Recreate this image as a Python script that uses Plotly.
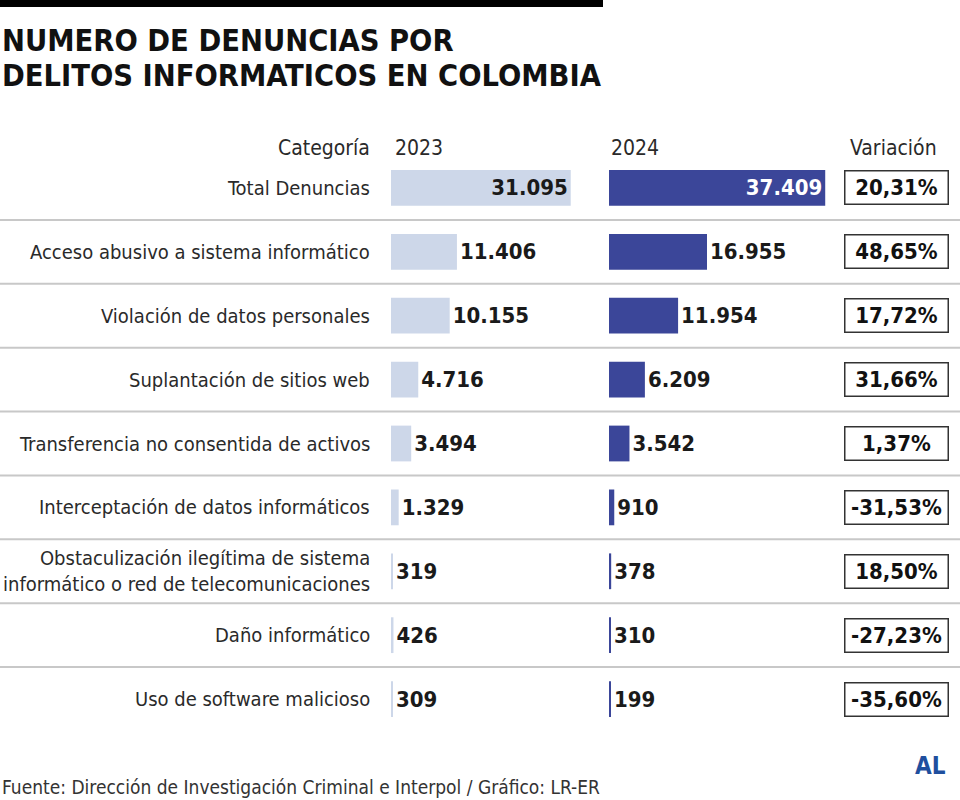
import plotly.graph_objects as go

categories = [
    "Total Denuncias",
    "Acceso abusivo a sistema informático",
    "Violación de datos personales",
    "Suplantación de sitios web",
    "Transferencia no consentida de activos",
    "Interceptación de datos informáticos",
    "Obstaculización ilegítima de sistema<br>informático o red de telecomunicaciones",
    "Daño informático",
    "Uso de software malicioso",
]
values_2023 = [31095, 11406, 10155, 4716, 3494, 1329, 319, 426, 309]
values_2024 = [37409, 16955, 11954, 6209, 3542, 910, 378, 310, 199]
variacion = ["20,31%", "48,65%", "17,72%", "31,66%", "1,37%", "-31,53%", "18,50%", "-27,23%", "-35,60%"]
header_labels = ["Categoría", "2023", "2024", "Variación"]
title_lines = ["NUMERO DE DENUNCIAS POR", "DELITOS INFORMATICOS EN COLOMBIA"]
source_text = "Fuente: Dirección de Investigación Criminal e Interpol / Gráfico: LR-ER"

FONT = "DejaVu Sans Condensed, Liberation Sans Narrow, sans-serif"
C23 = "#cdd7e9"
C24 = "#3b4699"
W, H = 960, 800
PX_PER_UNIT = 0.00578

def fmt(v):
    return f"{v:,}".replace(",", ".")

ys = list(range(len(categories)))
n = len(categories)

fig = go.Figure()

fig.add_trace(go.Bar(
    x=values_2023, y=ys, orientation="h", xaxis="x", yaxis="y",
    marker=dict(color=C23, line=dict(width=0)), width=0.56,
    text=[fmt(v) for v in values_2023],
    textposition=["inside"] + ["outside"] * (n - 1),
    insidetextanchor="end",
    textfont=dict(family=FONT, size=22, color="#1a1a1a", weight="bold"),
    constraintext="none", cliponaxis=False, hoverinfo="skip",
))
fig.add_trace(go.Bar(
    x=values_2024, y=ys, orientation="h", xaxis="x2", yaxis="y",
    marker=dict(color=C24, line=dict(width=0)), width=0.56,
    text=[fmt(v) for v in values_2024],
    textposition=["inside"] + ["outside"] * (n - 1),
    insidetextanchor="end",
    textfont=dict(family=FONT, size=22, color=["#ffffff"] + ["#1a1a1a"] * (n - 1), weight="bold"),
    constraintext="none", cliponaxis=False, hoverinfo="skip",
))

x1_l, x1_w = 391, 200
x2_l, x2_w = 609, 230
row_top, row_bot = 156, 731

fig.update_layout(
    width=W, height=H,
    margin=dict(l=0, r=0, t=0, b=0),
    paper_bgcolor="white", plot_bgcolor="rgba(0,0,0,0)",
    showlegend=False, barmode="overlay",
    xaxis=dict(domain=[x1_l / W, (x1_l + x1_w) / W], range=[0, x1_w / PX_PER_UNIT],
               visible=False, fixedrange=True, anchor="y"),
    xaxis2=dict(domain=[x2_l / W, (x2_l + x2_w) / W], range=[0, x2_w / PX_PER_UNIT],
                visible=False, fixedrange=True, anchor="y"),
    yaxis=dict(domain=[1 - row_bot / H, 1 - row_top / H], range=[n - 0.5, -0.5],
               visible=False, fixedrange=True),
)

shapes = [dict(type="rect", xref="paper", yref="paper", x0=0, x1=603 / W,
               y0=1 - 7 / H, y1=1, fillcolor="#000000", line=dict(width=0))]
for i in range(n - 1):
    shapes.append(dict(type="line", xref="paper", yref="y", x0=0, x1=1,
                       y0=i + 0.5, y1=i + 0.5, line=dict(color="#c8c8c8", width=2)))
fig.update_layout(shapes=shapes)

ann = []
for k, line in enumerate(title_lines):
    ann.append(dict(text=line, xref="paper", yref="paper", x=0, y=1 - (40 + 35 * k) / H,
                    xanchor="left", yanchor="middle", showarrow=False,
                    font=dict(family=FONT, size=30.5, color="#111111", weight="bold")))
hdr_y = 1 - 148 / H
hdr_pos = [(372, "right"), (393, "left"), (609, "left"), (939, "right")]
for lab, (px, anc) in zip(header_labels, hdr_pos):
    ann.append(dict(text=lab, xref="paper", yref="paper", x=px / W, y=hdr_y,
                    xanchor=anc, yanchor="middle", showarrow=False,
                    font=dict(family=FONT, size=21, color="#2a2a2a")))
for i, cat in enumerate(categories):
    ann.append(dict(text=cat, xref="paper", yref="y", x=372 / W, y=i,
                    xanchor="right", yanchor="middle", align="right", showarrow=False,
                    font=dict(family=FONT, size=20, color="#2a2a2a")))
    ann.append(dict(text=variacion[i], xref="paper", yref="y", x=896 / W, y=i,
                    xanchor="center", yanchor="middle", showarrow=False,
                    width=100, height=30, align="center",
                    bordercolor="#333333", borderwidth=1.5, borderpad=1, bgcolor="white",
                    font=dict(family=FONT, size=22, color="#111111", weight="bold")))
ann.append(dict(text=source_text, xref="paper", yref="paper", x=0, y=1 - 787 / H,
                xanchor="left", yanchor="middle", showarrow=False,
                font=dict(family=FONT, size=19, color="#333333")))
ann.append(dict(text="AL", xref="paper", yref="paper", x=930 / W, y=1 - 766 / H,
                xanchor="center", yanchor="middle", showarrow=False,
                font=dict(family=FONT, size=24, color="#1f4f9e", weight="bold")))
fig.update_layout(annotations=ann)

fig.write_html("out.html", config={"displayModeBar": False},
               post_script="document.body.style.margin='0';")
